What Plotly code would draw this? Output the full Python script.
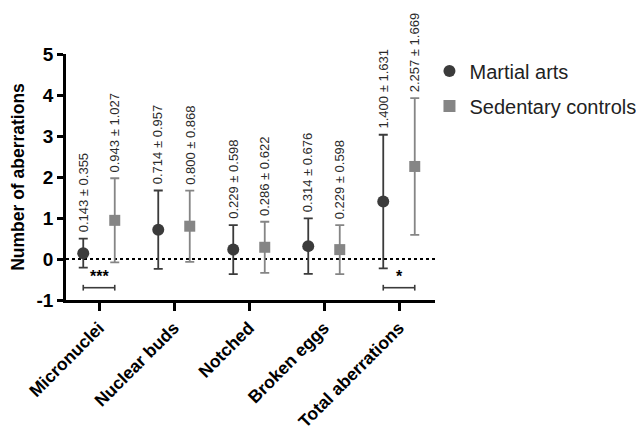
import plotly.graph_objects as go

categories = ["Micronuclei", "Nuclear buds", "Notched", "Broken eggs", "Total aberrations"]
martial_mean = [0.143, 0.714, 0.229, 0.314, 1.400]
martial_sd = [0.355, 0.957, 0.598, 0.676, 1.631]
sedentary_mean = [0.943, 0.800, 0.286, 0.229, 2.257]
sedentary_sd = [1.027, 0.868, 0.622, 0.598, 1.669]
y_ticks = [-1, 0, 1, 2, 3, 4, 5]
y_tick_labels = ["-1", "0", "1", "2", "3", "4", "5"]
sig_categories = [0, 4]
sig_labels = ["***", "*"]

FONT = "Liberation Sans, Arial, sans-serif"
C_M = "#3b3b3b"
C_S = "#858585"
off = 0.21

idx = list(range(len(categories)))
xm = [i - off for i in idx]
xs = [i + off for i in idx]

fig = go.Figure()
fig.add_trace(go.Scatter(
    x=xm, y=martial_mean, mode="markers", name="Martial arts", legendgroup="a",
    marker=dict(symbol="circle", size=12, color=C_M),
    error_y=dict(type="data", array=martial_sd, visible=True, color=C_M, thickness=1.8, width=4.5),
))
fig.add_trace(go.Scatter(
    x=xs, y=sedentary_mean, mode="markers", name="Sedentary controls", legendgroup="b",
    marker=dict(symbol="square", size=11, color=C_S),
    error_y=dict(type="data", array=sedentary_sd, visible=True, color=C_S, thickness=1.8, width=4.5),
))

# zero dotted line
fig.add_shape(type="line", xref="paper", yref="y", x0=0, x1=1, y0=0, y1=0,
              line=dict(color="black", width=2.2, dash="dot"), layer="below")

# value labels
for xv, m, s in list(zip(xm, martial_mean, martial_sd)) + list(zip(xs, sedentary_mean, sedentary_sd)):
    fig.add_annotation(x=xv, y=m + s, text=f"{m:.3f} ± {s:.3f}", textangle=-90,
                       showarrow=False, xanchor="center", yanchor="bottom", yshift=4,
                       font=dict(family=FONT, size=13, color="#2a2a2a"))

# significance brackets
for ci, lab in zip(sig_categories, sig_labels):
    x0, x1 = ci - off, ci + off
    fig.add_shape(type="line", x0=x0, x1=x1, y0=-0.7, y1=-0.7, line=dict(color="#3b3b3b", width=1.6))
    for xe in (x0, x1):
        fig.add_shape(type="line", x0=xe, x1=xe, y0=-0.63, y1=-0.77, line=dict(color="#3b3b3b", width=1.6))
    fig.add_annotation(x=ci, y=-0.7, text=f"<b>{lab}</b>", showarrow=False, yanchor="bottom", yshift=1,
                       font=dict(family=FONT, size=16, color="black"))

fig.update_layout(
    width=644, height=433,
    margin=dict(l=58, r=217, t=46, b=141, autoexpand=False),
    paper_bgcolor="white", plot_bgcolor="white",
    font=dict(family=FONT, color="black"),
    showlegend=True,
    legend=dict(x=0.985, y=1.01, xanchor="left", yanchor="top",
                font=dict(family=FONT, size=20, color="#222"),
                itemsizing="constant", tracegroupgap=6),
    xaxis=dict(range=[-0.44, 4.48], tickmode="array", tickvals=idx,
               ticktext=[f"<b>{c}</b>" for c in categories], tickangle=-45,
               tickfont=dict(family=FONT, size=17.5, color="black"),
               showline=True, linecolor="black", linewidth=2.5,
               ticks="outside", ticklen=8, tickwidth=2.5, tickcolor="black",
               showgrid=False, zeroline=False, automargin=False),
    yaxis=dict(range=[-1, 5], tickmode="array", tickvals=y_ticks,
               ticktext=[f"<b>{t}</b>" for t in y_tick_labels],
               tickfont=dict(family=FONT, size=19, color="black"),
               title=dict(text="<b>Number of aberrations</b>", font=dict(family=FONT, size=17.5, color="black"), standoff=8),
               showline=True, linecolor="black", linewidth=2.5,
               ticks="outside", ticklen=6, tickwidth=2.5, tickcolor="black",
               showgrid=False, zeroline=False, automargin=False),
)

fig.write_html("out.html")
